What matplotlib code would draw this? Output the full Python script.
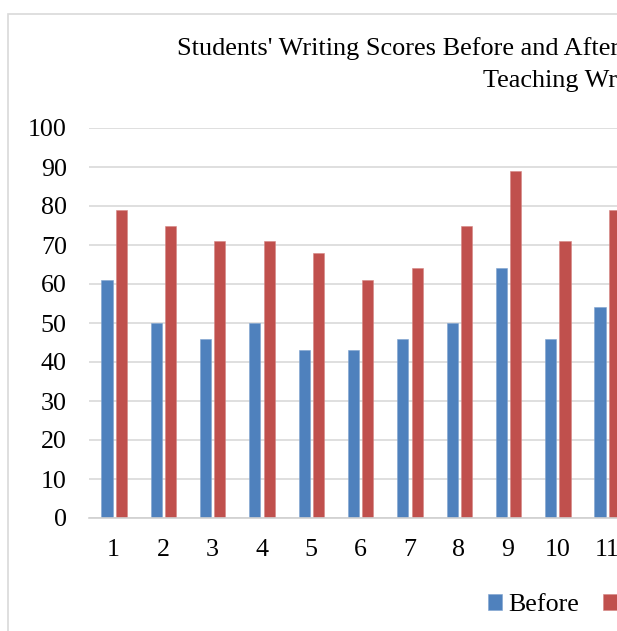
#!/usr/bin/env python3

import numpy as np
import matplotlib
matplotlib.use("Agg")
import matplotlib.pyplot as plt
from matplotlib.patches import Rectangle


students = [1, 2, 3, 4, 5, 6, 7, 8, 9, 10, 11]
before = [61, 50, 46, 50, 43, 43, 46, 50, 64, 46, 54]
after = [79, 75, 71, 71, 68, 61, 64, 75, 89, 71, 79]
series_names = ["Before", "After"]
title_line1 = "Students' Writing Scores Before and After"
title_line2 = "Teaching Writing"


def plot_scores():
    W, H = 617, 631
    fig = plt.figure(figsize=(W / 100, H / 100), dpi=100)
    plt.rcParams["font.family"] = ["Liberation Serif", "DejaVu Serif"]

    # outer chart border (cut off on the right and bottom)
    fig.patches.append(Rectangle((8 / W, -0.1), 1.2, 1 - 14 / H + 0.1,
                                 transform=fig.transFigure, fill=False,
                                 edgecolor="#D9D9D9", linewidth=1.2))

    left = 89 / W
    bottom = (H - 518) / H
    top = (H - 128) / H
    width = 11 * 49.3 / W
    ax = fig.add_axes([left, bottom, width, top - bottom])

    x = np.array(students)
    ax.bar(x - 0.135, before, width=0.225, color="#4F81BD", edgecolor="#7FA3D0",
           linewidth=0.4, label=series_names[0], zorder=3)
    ax.bar(x + 0.155, after, width=0.225, color="#C0504D", edgecolor="#D58583",
           linewidth=0.4, label=series_names[1], zorder=3)

    ax.set_xlim(0.5, 11.5)
    ax.set_ylim(0, 100)
    ax.set_yticks(np.arange(0, 101, 10))
    ax.set_xticks(x)
    ax.set_xticklabels([str(s) for s in students])
    ax.grid(True, axis="y", color="#D9D9D9", linewidth=1.2, zorder=0)
    for s in ["top", "right", "left"]:
        ax.spines[s].set_visible(False)
    ax.spines["bottom"].set_color("#D0D0D0")
    ax.spines["bottom"].set_linewidth(1.2)
    ax.spines["bottom"].set_zorder(4)
    ax.tick_params(axis="both", length=0, labelsize=18.7)
    ax.tick_params(axis="y", pad=16)
    ax.tick_params(axis="x", pad=15)

    fig.text(177 / W, 1 - 49 / H, title_line1, fontsize=18.9, ha="left", va="center")
    fig.text(483 / W, 1 - 81 / H, title_line2, fontsize=18.9, ha="left", va="center")

    fig.legend(loc="center left", bbox_to_anchor=(488 / W, 1 - 605 / H), ncol=2,
               frameon=False, fontsize=18.7, handlelength=0.55, handleheight=0.55,
               handletextpad=0.25, columnspacing=0.9, borderpad=0, borderaxespad=0)

    plt.savefig("out.png", dpi=100)

    return 0


def main():
    plot_scores()
    return 0


if __name__ == '__main__':
    main()
